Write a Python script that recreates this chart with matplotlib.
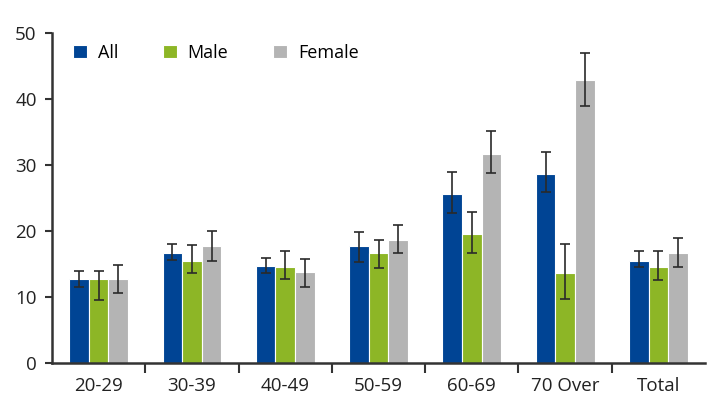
import numpy as np
import matplotlib
matplotlib.use("Agg")
import matplotlib.pyplot as plt

groups = ["20-29", "30-39", "40-49", "50-59", "60-69", "70 Over", "Total"]
series = ["All", "Male", "Female"]

all_val = [12.7, 16.6, 14.7, 17.7, 25.6, 28.6, 15.5]
all_hi = [13.9, 18.1, 15.9, 19.8, 28.9, 31.9, 16.9]
all_lo = [11.5, 15.6, 13.6, 15.3, 22.7, 25.9, 14.6]

male_val = [12.7, 15.5, 14.6, 16.6, 19.6, 13.6, 14.5]
male_hi = [13.9, 17.9, 17.0, 18.7, 22.9, 18.1, 16.9]
male_lo = [9.6, 13.6, 12.7, 14.4, 16.6, 9.7, 12.6]

female_val = [12.7, 17.7, 13.8, 18.7, 31.7, 42.8, 16.6]
female_hi = [14.9, 20.0, 15.8, 20.9, 35.1, 47.0, 18.9]
female_lo = [10.6, 15.5, 11.5, 16.6, 28.8, 39.0, 14.6]

colors = ["#004494", "#8db626", "#b4b4b4"]

plt.rcParams['font.family'] = ['Open Sans', 'DejaVu Sans']

fig = plt.figure(figsize=(7.18, 4.17), dpi=100)
ax = fig.add_axes([0.0724, 0.1295, 0.9096, 0.7915])

x = np.arange(len(groups))
w = 0.21
data = [(all_val, all_hi, all_lo), (male_val, male_hi, male_lo), (female_val, female_hi, female_lo)]
for i, (v, hi, lo) in enumerate(data):
    v = np.array(v)
    err = [v - np.array(lo), np.array(hi) - v]
    ax.bar(x + (i - 1) * w, v, w, color=colors[i], edgecolor="white", linewidth=0.8,
           label=series[i], yerr=err, capsize=3.5,
           error_kw=dict(ecolor="#2a2a2a", elinewidth=1.2, capthick=1.2))

ax.set_xlim(-0.5, 6.5)
ax.set_ylim(0, 50)
ax.set_yticks([0, 10, 20, 30, 40, 50])
ax.set_xticks(x)
ax.set_xticklabels(groups)
ax.set_xticks(np.arange(0.5, 6.0, 1.0), minor=True)
ax.tick_params(axis="x", which="major", length=0, pad=10, labelsize=13.5, colors="#222222")
ax.tick_params(axis="x", which="minor", length=7, width=1.5, color="#333333", direction="out")
ax.tick_params(axis="y", length=5, width=1.5, color="#333333", labelsize=13.5, pad=6, labelcolor="#222222")

for s in ["top", "right"]:
    ax.spines[s].set_visible(False)
for s in ["left", "bottom"]:
    ax.spines[s].set_color("#333333")
    ax.spines[s].set_linewidth(1.8)

leg = ax.legend(loc="upper left", bbox_to_anchor=(0.016, 1.0), ncol=3, frameon=False,
                fontsize=13, handlelength=0.75, handleheight=0.75, handletextpad=0.6,
                columnspacing=2.5, borderaxespad=0.2)

fig.savefig("out.png", dpi=100)
